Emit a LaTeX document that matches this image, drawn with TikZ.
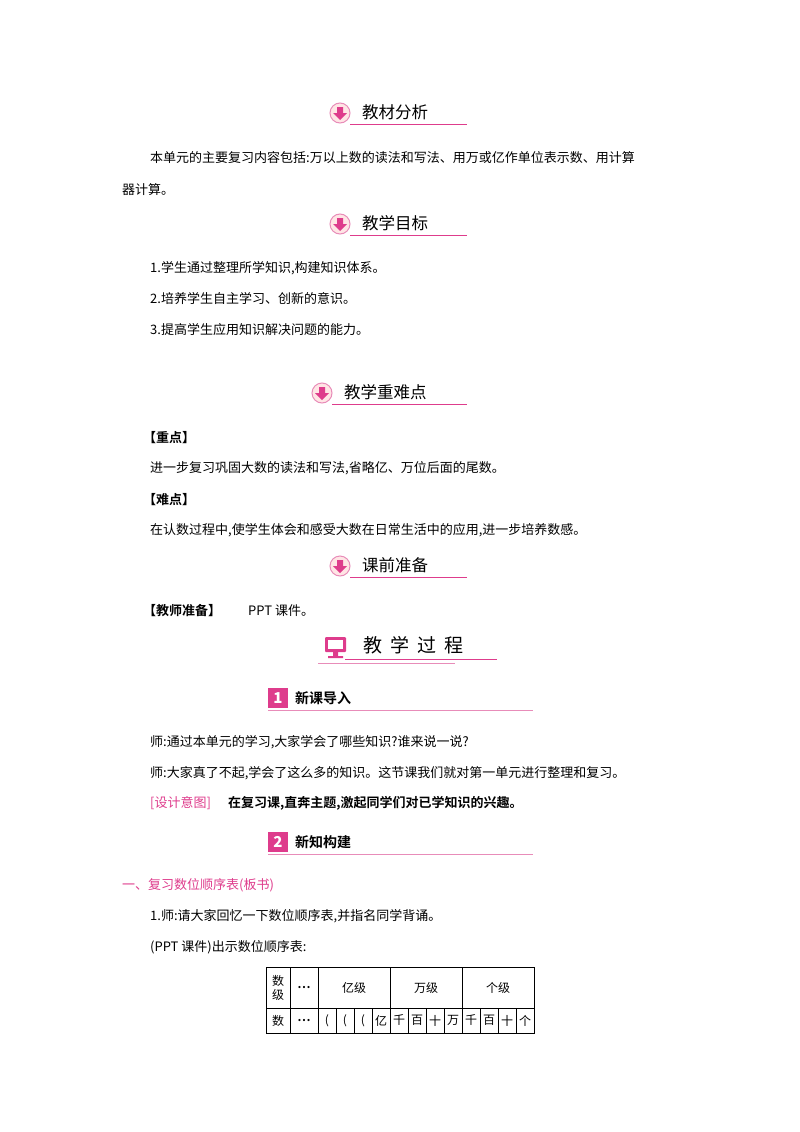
\documentclass[tikz,border=0pt]{standalone}
\usepackage{fontspec}
\setmainfont{Noto Sans CJK SC}[BoldFont={* Bold}]
\definecolor{pk}{RGB}{222,60,140}
\definecolor{pkl}{RGB}{232,140,185}
\begin{document}
\begin{tikzpicture}[x=1pt,y=-1pt,
  txt/.style={anchor=west,inner sep=0pt,font=\fontsize{13}{13}\selectfont},
  hd/.style={anchor=west,inner sep=0pt,font=\fontsize{16.5}{16.5}\selectfont},
  cell/.style={inner sep=0pt,font=\fontsize{12}{12}\selectfont}]
\useasboundingbox (0,0) rectangle (800,1132);
\newcommand\hdr[4]{% x of icon, y, text, line end
  \node[circle,draw=pkl,line width=1pt,fill=pink!40,minimum size=20pt] (i#2) at (#1,#2) {};
  \fill[pk] (#1-3,#2-6) rectangle (#1+3,#2) (#1-7,#2) -- (#1+7,#2) -- (#1,#2+7) -- cycle;
  \node[hd] (t#2) at (#1+22,#2-1) {#3};
  \draw[pk,line width=0.8pt] (#1+10,#2+11) -- (#4,#2+11);}
\hdr{340}{113}{教材分析}{467}
\node[txt] (p1) at (150,158) {本单元的主要复习内容包括:万以上数的读法和写法、用万或亿作单位表示数、用计算};
\node[txt] (p2) at (122,190) {器计算。};
\hdr{340}{224}{教学目标}{467}
\node[txt] (g1) at (150,268) {1.学生通过整理所学知识,构建知识体系。};
\node[txt] (g2) at (150,299) {2.培养学生自主学习、创新的意识。};
\node[txt] (g3) at (150,330) {3.提高学生应用知识解决问题的能力。};
\hdr{322}{393}{教学重难点}{467}
\node[txt,font=\fontsize{13}{13}\selectfont\bfseries] (z1) at (143,438) {【重点】};
\node[txt] (z2) at (150,468) {进一步复习巩固大数的读法和写法,省略亿、万位后面的尾数。};
\node[txt,font=\fontsize{13}{13}\selectfont\bfseries] (n1) at (143,500) {【难点】};
\node[txt] (n2) at (150,530) {在认数过程中,使学生体会和感受大数在日常生活中的应用,进一步培养数感。};
\hdr{340}{566}{课前准备}{467}
\node[txt,font=\fontsize{13}{13}\selectfont\bfseries] (r1) at (143,611) {【教师准备】};
\node[txt] (r2) at (248,611) {PPT 课件。};
% teaching process
\fill[pk,rounded corners=1pt] (325,637) rectangle (346,652);
\fill[white] (328,640) rectangle (343,649);
\fill[pk] (333,652) rectangle (338,656) (328,656) rectangle (343,658);
\node[hd,font=\fontsize{19}{19}\selectfont] (tp) at (363,645) {教\hspace{8pt}学\hspace{8pt}过\hspace{8pt}程};
\draw[pk,line width=0.8pt] (345,659) -- (497,659);
\draw[pkl,line width=0.8pt] (318,663) -- (455,663);
% 1
\fill[pk] (268,688) rectangle (288,708);
\node[inner sep=0pt,text=white,font=\fontsize{15}{15}\selectfont\bfseries\itshape] (n1b) at (278,698) {1};
\node[txt,font=\fontsize{14}{14}\selectfont\bfseries] (s1) at (295,698) {新课导入};
\draw[pkl,line width=0.8pt] (268,710) -- (533,710);
\node[txt] (l1) at (150,742) {师:通过本单元的学习,大家学会了哪些知识?谁来说一说?};
\node[txt] (l2) at (150,773) {师:大家真了不起,学会了这么多的知识。这节课我们就对第一单元进行整理和复习。};
\node[txt,text=pk] (d1) at (150,803) {[设计意图]};
\node[txt,font=\fontsize{13}{13}\selectfont\bfseries] (d2) at (228,803) {在复习课,直奔主题,激起同学们对已学知识的兴趣。};
\fill[pk] (268,832) rectangle (288,852);
\node[inner sep=0pt,text=white,font=\fontsize{15}{15}\selectfont\bfseries\itshape] (n2b) at (278,842) {2};
\node[txt,font=\fontsize{14}{14}\selectfont\bfseries] (s2) at (295,842) {新知构建};
\draw[pkl,line width=0.8pt] (268,854) -- (533,854);
\node[txt,text=pk] (h1) at (122,885) {一、复习数位顺序表(板书)};
\node[txt] (q1) at (150,916) {1.师:请大家回忆一下数位顺序表,并指名同学背诵。};
\node[txt] (q2) at (150,947) {(PPT 课件)出示数位顺序表:};
% table
\draw[line width=0.7pt] (266,967) rectangle (534,1033);
\draw[line width=0.7pt] (266,1008) -- (534,1008);
\foreach \x in {290,318,390,462} \draw[line width=0.7pt] (\x,967) -- (\x,1033);
\foreach \i in {1,2,3,5,6,7,9,10,11} \draw[line width=0.7pt] (318+18*\i,1008) -- (318+18*\i,1033);
\node[cell,align=center,font=\fontsize{12}{14}\selectfont] (c0) at (278,987.5) {数\\级};
\node[cell,font=\fontsize{12}{12}\selectfont\bfseries] (c1) at (304,988) {…};
\node[cell] (c2) at (354,987.5) {亿级};
\node[cell] (c3) at (426,987.5) {万级};
\node[cell] (c4) at (498,987.5) {个级};
\node[cell] (d0) at (278,1020.5) {数};
\node[cell,font=\fontsize{12}{12}\selectfont\bfseries] (d1x) at (304,1021) {…};
\foreach \t [count=\i from 0] in {{(},{(},{(},亿,千,百,十,万,千,百,十,个}
  \node[cell] (e\i) at (327+18*\i,1020.5) {\t};
\end{tikzpicture}
\end{document}
